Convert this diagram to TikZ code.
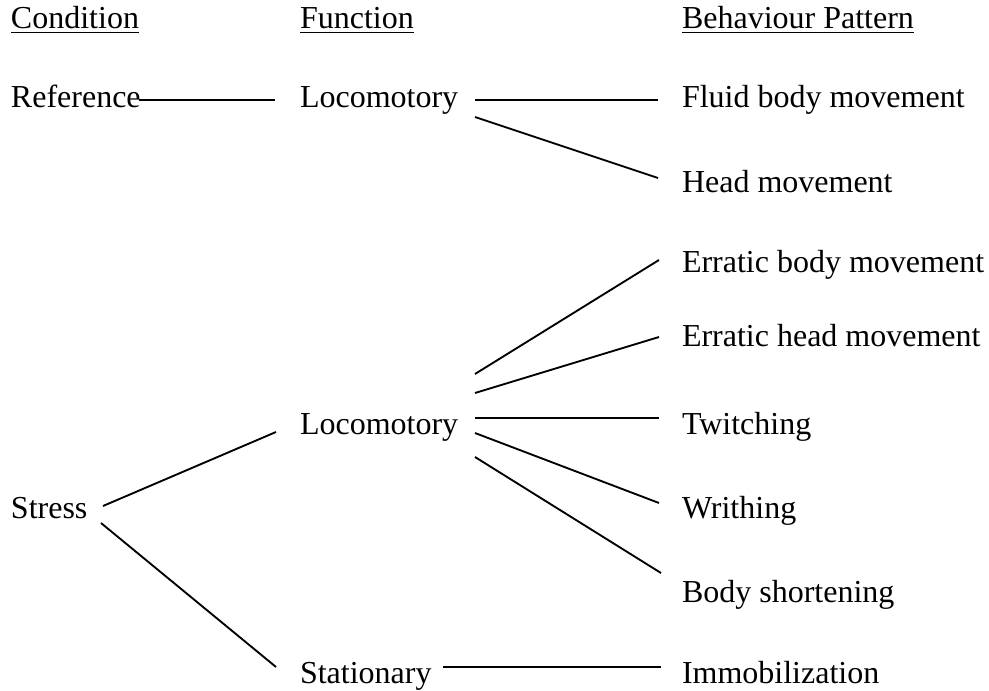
\documentclass[tikz,border=0pt]{standalone}
\usepackage{fontspec}
\setmainfont{Liberation Serif}
\begin{document}
\begin{tikzpicture}[x=0.75pt,y=-0.75pt,
  lbl/.style={inner sep=0pt,outer sep=0pt,anchor=base west,font=\fontsize{24pt}{28pt}\selectfont},
  conn/.style={line width=1.4pt},
  uline/.style={line width=1.1pt}]
\useasboundingbox (0,0) rectangle (989,691);
% headers
\node[lbl] (hcond) at (11,29) {Condition};
\node[lbl] (hfunc) at (300,29) {Function};
\node[lbl] (hbeh) at (682,29) {Behaviour Pattern};
\draw[uline] ([yshift=-2.5pt]hcond.base west) -- ([yshift=-2.5pt]hcond.base east);
\draw[uline] ([yshift=-2.5pt]hfunc.base west) -- ([yshift=-2.5pt]hfunc.base east);
\draw[uline] ([yshift=-2.5pt]hbeh.base west) -- ([yshift=-2.5pt]hbeh.base east);
% conditions
\node[lbl] (ref) at (11,108) {Reference};
\node[lbl] (stress) at (11,518) {Stress};
% functions
\node[lbl] (loc1) at (300,108) {Locomotory};
\node[lbl] (loc2) at (300,435) {Locomotory};
\node[lbl] (stat) at (300,683) {Stationary};
% behaviours
\node[lbl] (fluid) at (682,108) {Fluid body movement};
\node[lbl] (head) at (682,193) {Head movement};
\node[lbl] (ebody) at (682,273) {Erratic body movement};
\node[lbl] (ehead) at (682,347) {Erratic head movement};
\node[lbl] (twitch) at (682,435) {Twitching};
\node[lbl] (writh) at (682,518) {Writhing};
\node[lbl] (short) at (682,602) {Body shortening};
\node[lbl] (immob) at (682,683) {Immobilization};
% connector end points
\coordinate (refR) at (139,100);
\coordinate (loc1L) at (275,100);
\coordinate (loc1Ra) at (475,100);
\coordinate (loc1Rb) at (475,117);
\coordinate (fluidL) at (658,100);
\coordinate (headL) at (658,178);
\coordinate (stressRa) at (103,506);
\coordinate (stressRb) at (101,523);
\coordinate (loc2L) at (276,432);
\coordinate (statL) at (276,667);
\coordinate (loc2Ra) at (475,374);
\coordinate (loc2Rb) at (475,393);
\coordinate (loc2Rc) at (475,418);
\coordinate (loc2Rd) at (475,433);
\coordinate (loc2Re) at (475,457);
\coordinate (ebodyL) at (659,260);
\coordinate (eheadL) at (659,337);
\coordinate (twitchL) at (659,418);
\coordinate (writhL) at (659,503);
\coordinate (shortL) at (661,573);
\coordinate (statR) at (443,667);
\coordinate (immobL) at (661,667);
% connectors
\draw[conn] (refR) -- (loc1L);
\draw[conn] (loc1Ra) -- (fluidL);
\draw[conn] (loc1Rb) -- (headL);
\draw[conn] (stressRa) -- (loc2L);
\draw[conn] (stressRb) -- (statL);
\draw[conn] (loc2Ra) -- (ebodyL);
\draw[conn] (loc2Rb) -- (eheadL);
\draw[conn] (loc2Rc) -- (twitchL);
\draw[conn] (loc2Rd) -- (writhL);
\draw[conn] (loc2Re) -- (shortL);
\draw[conn] (statR) -- (immobL);
\end{tikzpicture}
\end{document}
